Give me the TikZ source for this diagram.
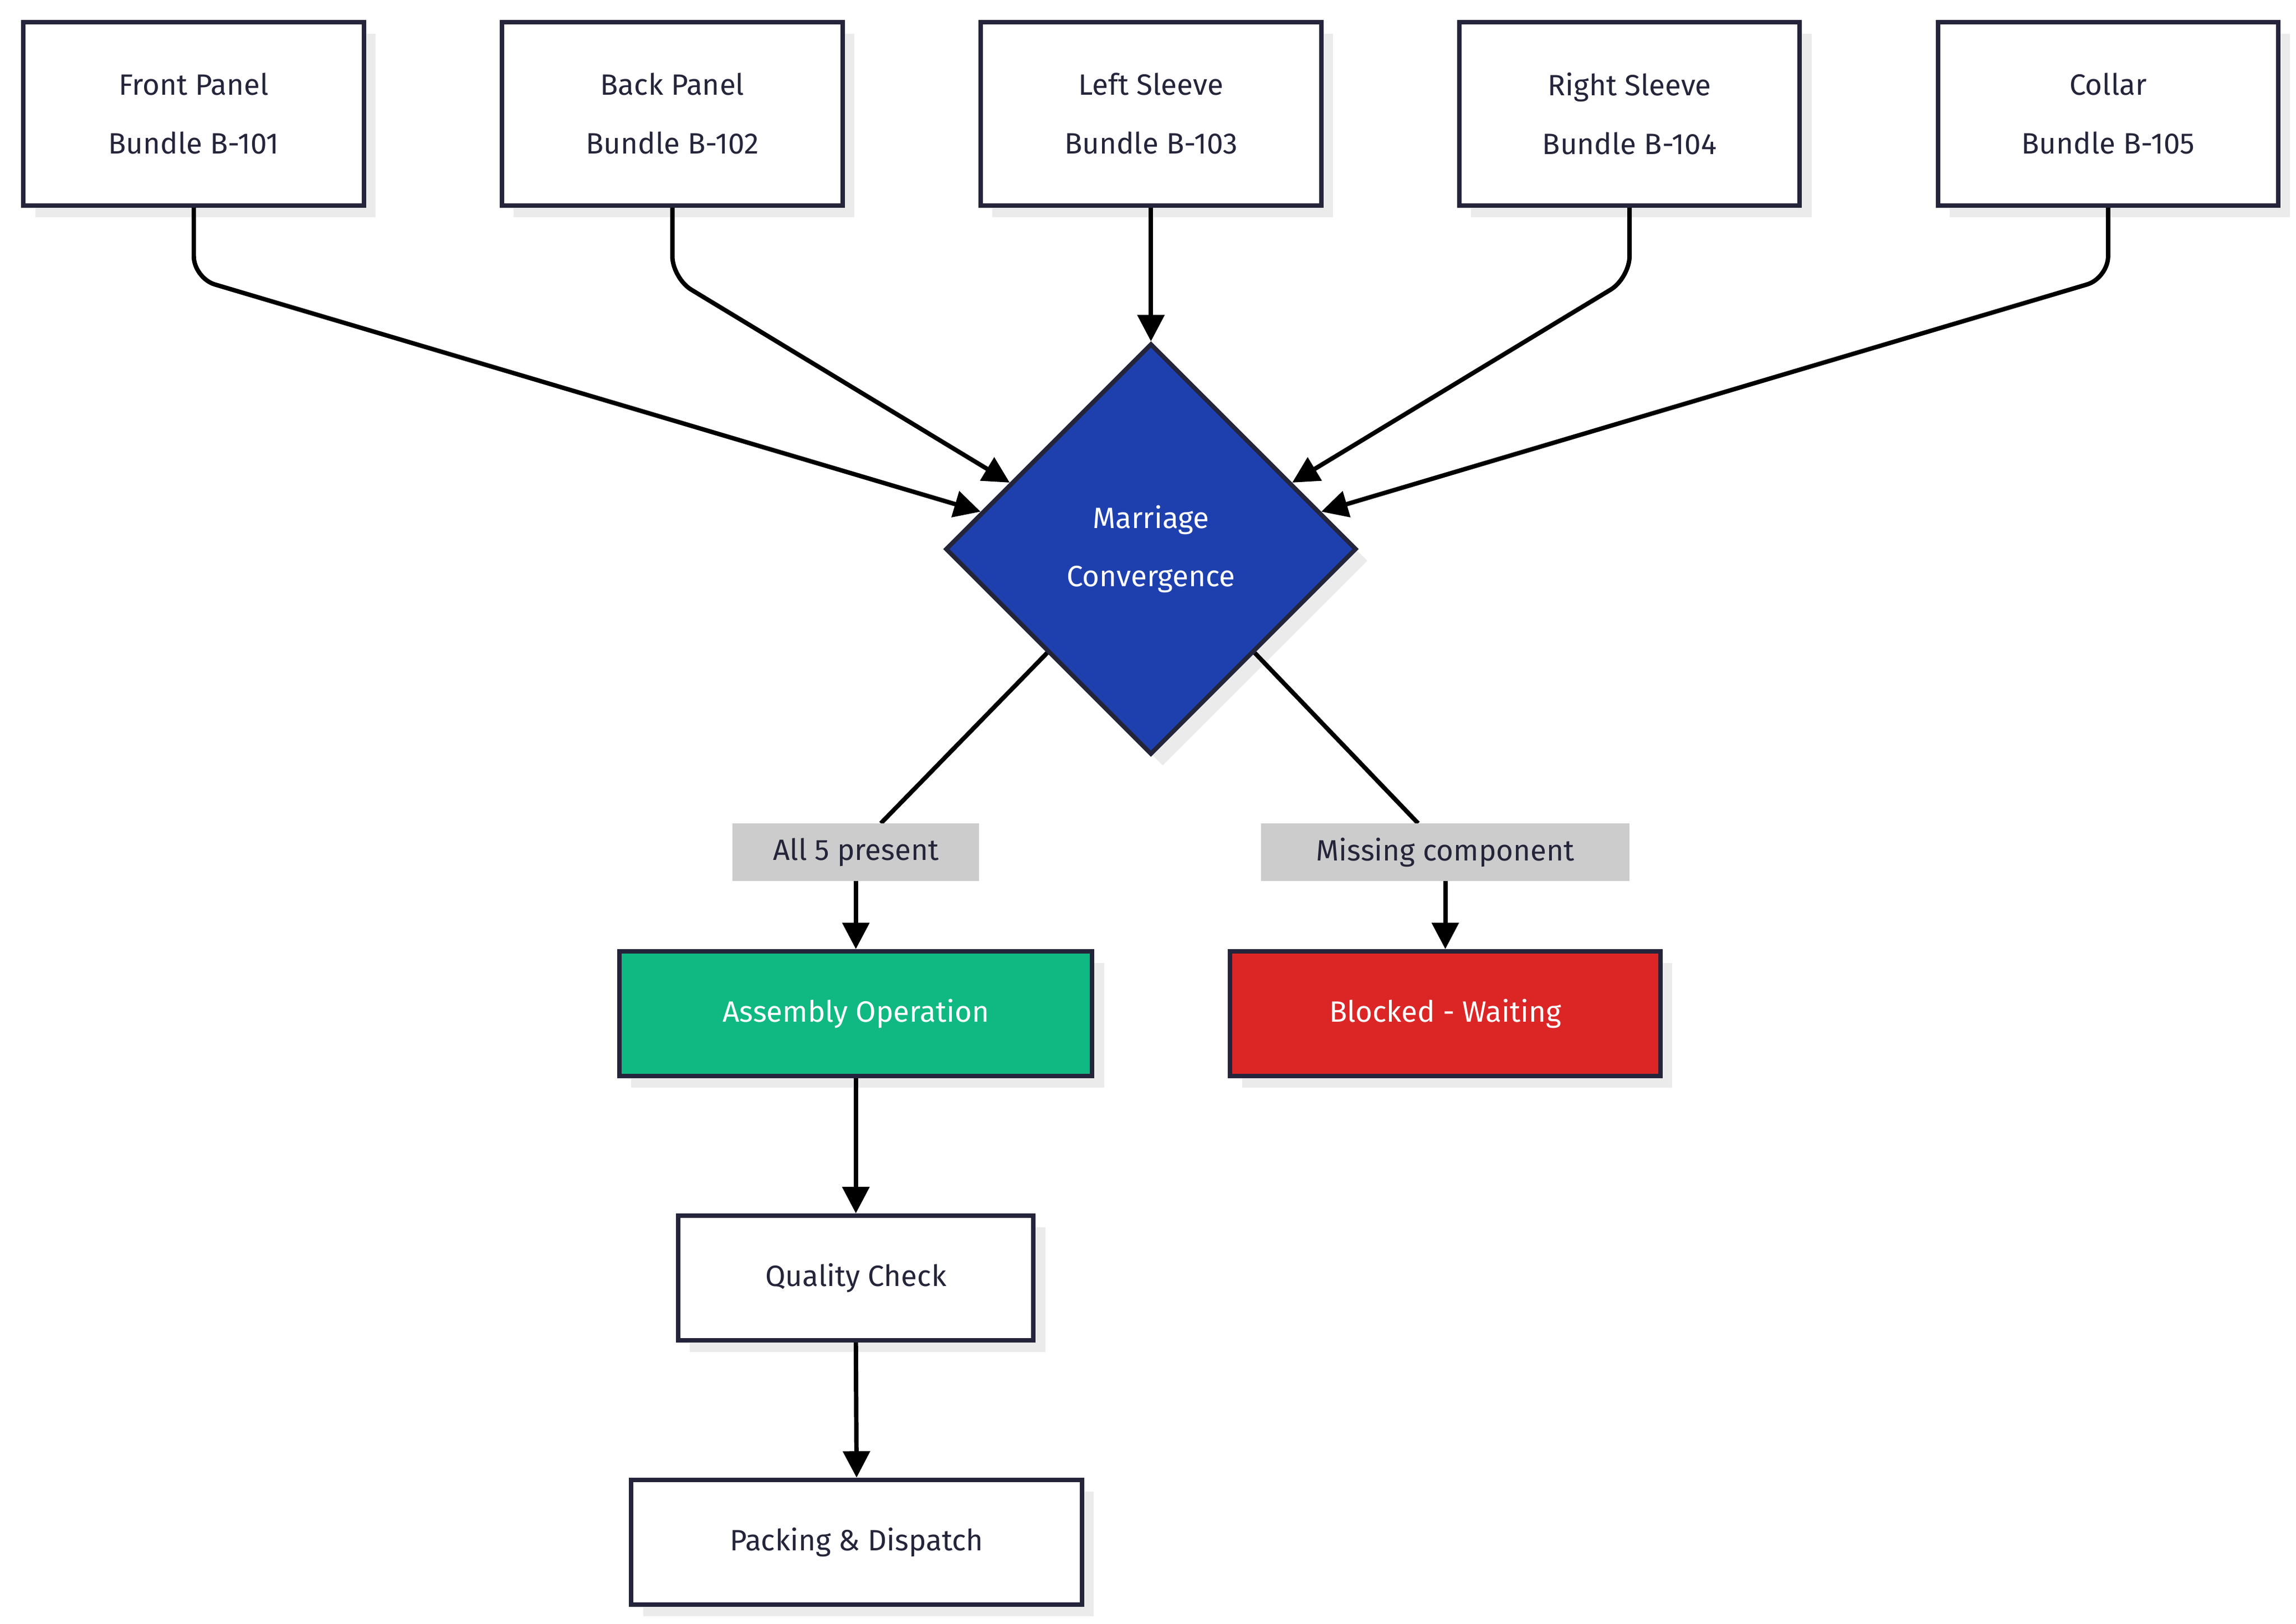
\documentclass[tikz,border=0pt]{standalone}
\usepackage{fontspec}
\setmainfont{Fira Sans}
\usetikzlibrary{shapes.geometric,shadows,arrows.meta,calc}
\definecolor{ink}{HTML}{24243A}
\definecolor{blu}{HTML}{1E40AF}
\definecolor{grn}{HTML}{10B981}
\definecolor{rd}{HTML}{DC2626}
\begin{document}
\begin{tikzpicture}[x=1pt,y=-1pt,
  shd/.style={drop shadow={shadow xshift=8pt,shadow yshift=-8pt,fill=black!8,opacity=1}},
  box/.style={draw=ink,line width=3pt,fill=white,shd,inner sep=0pt,align=center,text=ink,font=\fontsize{20}{40}\selectfont},
  lab/.style={fill=black!20,text=ink,inner sep=0pt,minimum height=39pt,font=\fontsize{20}{24}\selectfont},
  con/.style={line width=3pt,black,rounded corners=15pt},
  arr/.style={con,-{Triangle[length=18pt,width=18pt]}}]
\useasboundingbox (0,0) rectangle (1564,1106);
\foreach \n/\x/\t in {b1/132/{Front Panel\\Bundle B-101},b2/458/{Back Panel\\Bundle B-102},b3/784/{Left Sleeve\\Bundle B-103},b4/1110/{Right Sleeve\\Bundle B-104},b5/1436/{Collar\\Bundle B-105}}
  \node[box,minimum width=232pt,minimum height=125pt] (\n) at (\x,77.5) {\t};
\node[box,diamond,fill=blu,text=white,minimum width=280pt,minimum height=280pt,aspect=1] (d) at (784,374) {Marriage\\Convergence};
\node[box,fill=grn,text=white,minimum width=322pt,minimum height=85pt] (as) at (583,690.5) {Assembly Operation};
\node[box,fill=rd,text=white,minimum width=293pt,minimum height=85pt] (bl) at (984.5,690.5) {Blocked - Waiting};
\node[box,minimum width=242pt,minimum height=85pt] (qc) at (583,870.5) {Quality Check};
\node[box,minimum width=307pt,minimum height=85pt] (pk) at (583.5,1050.5) {Packing \& Dispatch};
\coordinate (e1) at ($(d.west)!0.18!(d.north)$);
\coordinate (e2) at ($(d.west)!0.32!(d.north)$);
\coordinate (e4) at ($(d.east)!0.32!(d.north)$);
\coordinate (e5) at ($(d.east)!0.18!(d.north)$);
\draw[arr] (b1.south) -- ++(0,48) -- (e1);
\draw[arr] (b2.south) -- ++(0,48) -- (e2);
\draw[arr] (b3.south) -- (d.north);
\draw[arr] (b4.south) -- ++(0,48) -- (e4);
\draw[arr] (b5.south) -- ++(0,48) -- (e5);
\node[lab,minimum width=168pt] (l1) at (583,580.5) {All 5 present};
\node[lab,minimum width=251pt] (l2) at (984.5,580.5) {Missing component};
\draw[con] ($(d.west)!0.5!(d.south)$) -- (l1.north -| 600,0);
\draw[con] ($(d.east)!0.5!(d.south)$) -- (l2.north -| 966,0);
\node[lab,minimum width=168pt] at (583,580.5) {All 5 present};
\node[lab,minimum width=251pt] at (984.5,580.5) {Missing component};
\draw[arr] (l1.south) -- (as.north);
\draw[arr] (l2.south) -- (bl.north);
\draw[arr] (as.south) -- (qc.north);
\draw[arr] (qc.south) -- (pk.north);
\end{tikzpicture}
\end{document}
